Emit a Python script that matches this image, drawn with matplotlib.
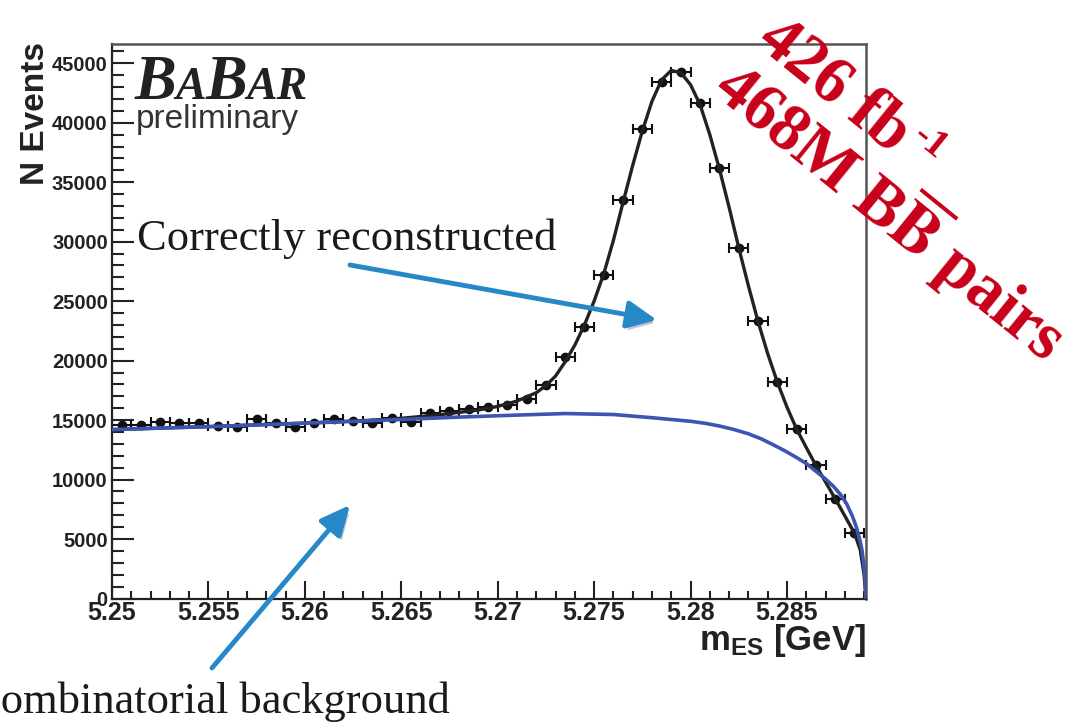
import math
import matplotlib
matplotlib.use("Agg")
import matplotlib.pyplot as plt
import matplotlib.patheffects as pe
from matplotlib.patches import FancyArrowPatch
from matplotlib.ticker import MultipleLocator, FuncFormatter

# m_ES histogram, 1 MeV bins (bin centres in GeV)
m_bins = [5.2505, 5.2515, 5.2525, 5.2535, 5.2545, 5.2555, 5.2565, 5.2575,
          5.2585, 5.2595, 5.2605, 5.2615, 5.2625, 5.2635, 5.2645, 5.2655,
          5.2665, 5.2675, 5.2685, 5.2695, 5.2705, 5.2715, 5.2725, 5.2735,
          5.2745, 5.2755, 5.2765, 5.2775, 5.2785, 5.2795, 5.2805, 5.2815,
          5.2825, 5.2835, 5.2845, 5.2855, 5.2865, 5.2875, 5.2885]
events = [14590, 14590, 14870, 14780, 14780, 14500, 14450, 15070,
          14730, 14450, 14780, 15070, 14950, 14780, 15200, 14870,
          15600, 15800, 15900, 16100, 16300, 16800, 17950, 20300,
          22800, 27200, 33500, 39450, 43400, 44300, 41700, 36200,
          29450, 23300, 18200, 14250, 11200, 8400, 5500]
half_bin = 0.0005

# total fit (signal + background)
fit_m = [5.2500, 5.2550, 5.2600, 5.2630, 5.2650, 5.2670, 5.2680, 5.2690,
         5.2700, 5.2710, 5.2720, 5.2725, 5.2730, 5.2735, 5.2740, 5.2745,
         5.2750, 5.2755, 5.2760, 5.2765, 5.2770, 5.2775, 5.2780, 5.2785,
         5.2790, 5.2795, 5.2800, 5.2805, 5.2810, 5.2815, 5.2820, 5.2825,
         5.2830, 5.2835, 5.2840, 5.2845, 5.2850, 5.2855, 5.2860, 5.2865,
         5.2870, 5.2875, 5.2880, 5.2885, 5.2888, 5.2890, 5.2891]
fit_n = [14200, 14450, 14750, 14950, 15150, 15450, 15650, 15850,
         16150, 16600, 17300, 17900, 18700, 19900, 21300, 23000,
         25000, 27300, 30100, 33300, 36400, 39300, 41800, 43600,
         44400, 44200, 43200, 41500, 39000, 36100, 32900, 29500,
         26300, 23300, 20600, 18200, 16100, 14250, 12700, 11200,
         9800, 8400, 6950, 5500, 4100, 2000, 0]

# combinatorial background component
bkg_m = [5.2500, 5.2530, 5.2560, 5.2590, 5.2620, 5.2650, 5.2680, 5.2710,
         5.2735, 5.2760, 5.2780, 5.2790, 5.2800, 5.2808, 5.2815, 5.2822,
         5.2830, 5.2837, 5.2845, 5.2850, 5.2855, 5.2860, 5.2865, 5.2870,
         5.2874, 5.2878, 5.2881, 5.2884, 5.2886, 5.2888, 5.2889, 5.2890,
         5.28905, 5.2891]
bkg_n = [14200, 14350, 14500, 14680, 14860, 15050, 15250, 15420,
         15550, 15470, 15200, 15050, 14900, 14720, 14500, 14230,
         13850, 13400, 12750, 12320, 11850, 11350, 10700, 10050,
         9450, 8700, 7950, 6900, 6000, 4800, 4000, 2600,
         1700, 0]

W, H = 1071, 726
plt.rcParams['font.family'] = ['Liberation Sans', 'DejaVu Sans']
plt.rcParams['font.weight'] = 'bold'
plt.rcParams['mathtext.fontset'] = 'custom'
plt.rcParams['mathtext.rm'] = 'Liberation Sans:bold'
plt.rcParams['mathtext.bf'] = 'Liberation Sans:bold'
plt.rcParams['mathtext.it'] = 'Liberation Sans:bold'

fig = plt.figure(figsize=(W / 100, H / 100), dpi=100)
ax = fig.add_axes([112 / W, 1 - 598.5 / H, 754 / W, 554.5 / H])
renderer = fig.canvas.get_renderer()


def fx(x):
    return x / W


def fy(y):
    return 1 - y / H


ax.errorbar(m_bins, events, xerr=half_bin, fmt='o', color='#111111', ms=6,
            elinewidth=1.5, capsize=3.5, capthick=1.5, zorder=2)
ax.plot(fit_m, fit_n, color='#222222', lw=2.4, zorder=3)
ax.plot(bkg_m, bkg_n, color='#3d54b0', lw=2.6, zorder=4)

ax.set_xlim(5.25, 5.2891)
ax.set_ylim(0, 46620)
ax.xaxis.set_major_locator(MultipleLocator(0.005))
ax.xaxis.set_minor_locator(MultipleLocator(0.001))
ax.yaxis.set_major_locator(MultipleLocator(5000))
ax.yaxis.set_minor_locator(MultipleLocator(1000))
ax.xaxis.set_major_formatter(FuncFormatter(lambda v, p: f"{v:g}"))
ax.yaxis.set_major_formatter(FuncFormatter(lambda v, p: f"{v:.0f}"))

ax.tick_params(which='both', direction='in', top=False, right=False,
               width=1.5, color='#222222', labelcolor='#222222')
ax.tick_params(axis='y', which='major', length=16, labelsize=14.5, pad=3)
ax.tick_params(axis='y', which='minor', length=8.5)
ax.tick_params(axis='x', which='major', length=13, labelsize=18, pad=2)
ax.tick_params(axis='x', which='minor', length=6)
for side in ['left', 'bottom']:
    ax.spines[side].set_color('#222222')
    ax.spines[side].set_linewidth(1.6)
for side in ['top', 'right']:
    ax.spines[side].set_color('#555555')
    ax.spines[side].set_linewidth(1.8)

# axis titles
fig.text(fx(35), fy(42), "N Events", rotation=90, ha='center', va='top',
         fontsize=24, color='#222222')
fig.text(fx(866), fy(650), r"$\mathrm{m}_{\mathrm{ES}}$ [GeV]", ha='right',
         va='baseline', fontsize=25, color='#222222')

# experiment logo
x0 = 135
for s, size in [("B", 45), ("A", 33), ("B", 45), ("AR", 33)]:
    t = fig.text(fx(x0), fy(99), s, fontsize=size, family='Liberation Serif',
                 style='italic', weight='bold', color='#222222', va='baseline')
    x0 = t.get_window_extent(renderer).x1 - 1
fig.text(fx(136), fy(128), "preliminary", fontsize=24, weight='normal',
         color='#333333', va='baseline')

# annotations
fig.text(fx(137), fy(250), "Correctly reconstructed", fontsize=32,
         family='Liberation Serif', weight='normal', color='#1a1a1a',
         va='baseline')
fig.text(fx(450), fy(713), "Combinatorial background", fontsize=32,
         family='Liberation Serif', weight='normal', color='#1a1a1a',
         ha='right', va='baseline')

shadow = [pe.withSimplePatchShadow(offset=(2, -3), shadow_rgbFace='#555577',
                                   alpha=0.35)]
for tail, head in [((350, 265), (657, 320)), ((212, 668), (350, 505))]:
    arr = FancyArrowPatch((fx(tail[0]), fy(tail[1])), (fx(head[0]), fy(head[1])),
                          transform=fig.transFigure,
                          arrowstyle='-|>,head_length=0.6,head_width=0.28',
                          mutation_scale=30, lw=3.5, color='#2788c8',
                          shrinkA=0, shrinkB=0, path_effects=shadow)
    fig.add_artist(arr)

# luminosity label, written along a slanted baseline
red = '#c8001a'
angle = -39
# baseline direction and "up" direction in pixel coords (y pointing down)
bx, by = math.cos(math.radians(-angle)), math.sin(math.radians(-angle))
ux, uy = by, -bx
red_kw = dict(rotation=angle, rotation_mode='anchor', ha='left', va='baseline',
              family='Liberation Serif', weight='bold', color=red)


def slanted(x, y, s, size, **kw):
    t = fig.text(fx(x), fy(y), s, fontsize=size, **red_kw, **kw)
    flat = fig.text(0, 0, s, fontsize=size, family='Liberation Serif',
                    weight='bold', **kw)
    w = flat.get_window_extent(renderer).width
    flat.remove()
    return t, w


x1, y1 = 755, 44
_, w1 = slanted(x1, y1, "426 fb", 48)
gap, rise = 5, 24
slanted(x1 + (w1 + gap) * bx + rise * ux, y1 + (w1 + gap) * by + rise * uy,
        "-1", 29)
slanted(710, 93, r"468M B$\overline{\mathbf{B}}$ pairs", 48,
        math_fontfamily='stix')

fig.savefig("out.png", dpi=100)
